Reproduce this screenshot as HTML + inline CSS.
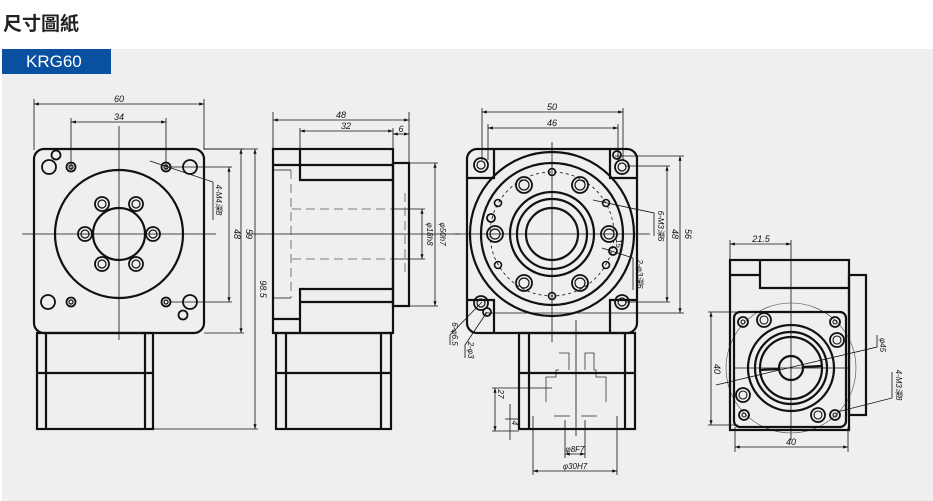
<!DOCTYPE html>
<html><head><meta charset="utf-8"><style>
html,body{margin:0;padding:0;background:#fff;}
body{width:933px;height:501px;overflow:hidden;position:relative;font-family:"Liberation Sans","Noto Sans CJK TC",sans-serif;}
.t{position:absolute;left:3px;top:9px;font-size:19px;font-weight:bold;color:#222;}
.p{position:absolute;left:2px;top:49px;width:931px;height:452px;background:#eeefee;}
.tab{position:absolute;left:2px;top:49px;width:109px;height:25px;background:#0a50a0;color:#fff;font-size:17px;line-height:25px;text-indent:24px;}
svg{position:absolute;left:0;top:0;}
</style></head><body>
<div class="t">尺寸圖紙</div>
<div class="p"></div>
<div class="tab">KRG60</div>
<svg width="933" height="501" viewBox="0 0 933 501">
<defs>
<marker id="a" markerWidth="6" markerHeight="4" refX="6" refY="2" orient="auto-start-reverse"><path d="M0,0L6,2L0,4z" fill="#111"/></marker>
</defs>
<g fill="none" stroke="#111" font-family="Liberation Sans Narrow, Liberation Sans, sans-serif">
<!-- VIEW 1 -->
<g stroke-width="0.8">
<line x1="22" y1="234" x2="216" y2="234"/><line x1="119" y1="126" x2="119" y2="340"/>
<line x1="34" y1="99" x2="34" y2="150"/><line x1="204" y1="99" x2="204" y2="150"/>
<line x1="34" y1="104" x2="204" y2="104" marker-start="url(#a)" marker-end="url(#a)"/>
<line x1="71" y1="118" x2="71" y2="170"/><line x1="166" y1="118" x2="166" y2="170"/>
<line x1="71" y1="122" x2="166" y2="122" marker-start="url(#a)" marker-end="url(#a)"/>
<line x1="170" y1="167" x2="232" y2="167"/><line x1="170" y1="302" x2="232" y2="302"/>
<line x1="229" y1="167" x2="229" y2="302" marker-start="url(#a)" marker-end="url(#a)"/>
<line x1="204" y1="149" x2="244" y2="149"/><line x1="204" y1="333" x2="244" y2="333"/>
<line x1="241" y1="149" x2="241" y2="333" marker-start="url(#a)" marker-end="url(#a)"/>
<line x1="204" y1="149" x2="258" y2="149"/><line x1="153" y1="429" x2="258" y2="429"/>
<line x1="255" y1="149" x2="255" y2="429" marker-start="url(#a)" marker-end="url(#a)"/>
<polyline points="150,161 213,182 213,220"/>
</g>
<g stroke-width="2.2">
<rect x="34" y="149" width="170" height="184" rx="10"/>
<circle cx="119" cy="234" r="64"/><circle cx="119" cy="234" r="26"/>
</g>
<g stroke-width="1.8">
<circle cx="153" cy="234" r="7"/><circle cx="85" cy="234" r="7"/>
<circle cx="136" cy="204" r="7"/><circle cx="102" cy="204" r="7"/>
<circle cx="136" cy="264" r="7"/><circle cx="102" cy="264" r="7"/>
<circle cx="49" cy="167" r="7"/><circle cx="190" cy="167" r="7"/><circle cx="48" cy="302" r="7"/><circle cx="190" cy="302" r="7"/>
<circle cx="56" cy="155" r="4.5"/><circle cx="183" cy="315" r="4.5"/>
<circle cx="71" cy="167" r="4.5"/><circle cx="166" cy="167" r="4.5"/><circle cx="71" cy="302" r="4.5"/><circle cx="166" cy="302" r="4.5"/>
</g>
<g stroke-width="1.2">
<circle cx="153" cy="234" r="4"/><circle cx="85" cy="234" r="4"/><circle cx="136" cy="204" r="4"/><circle cx="102" cy="204" r="4"/><circle cx="136" cy="264" r="4"/><circle cx="102" cy="264" r="4"/>
<circle cx="71" cy="167" r="2"/><circle cx="166" cy="167" r="2"/><circle cx="71" cy="302" r="2"/><circle cx="166" cy="302" r="2"/>
</g>
<g stroke-width="2.2">
<rect x="37" y="333" width="116" height="96"/><line x1="46" y1="333" x2="46" y2="429"/><line x1="145" y1="333" x2="145" y2="429"/><line x1="37" y1="373" x2="153" y2="373"/>
</g>
<!-- VIEW 2 -->
<g stroke-width="0.8">
<line x1="247" y1="234" x2="460" y2="234"/>
<line x1="273" y1="112" x2="273" y2="149"/><line x1="409" y1="112" x2="409" y2="163"/><line x1="300" y1="128" x2="300" y2="149"/><line x1="393" y1="128" x2="393" y2="149"/>
<line x1="273" y1="120" x2="409" y2="120" marker-start="url(#a)" marker-end="url(#a)"/>
<line x1="300" y1="131" x2="393" y2="131" marker-start="url(#a)" marker-end="url(#a)"/>
<line x1="393" y1="134" x2="409" y2="134" marker-start="url(#a)" marker-end="url(#a)"/>
<line x1="409" y1="163" x2="438" y2="163"/><line x1="409" y1="306" x2="438" y2="306"/>
<line x1="435" y1="163" x2="435" y2="306" marker-start="url(#a)" marker-end="url(#a)"/>
<line x1="393" y1="209" x2="425" y2="209"/><line x1="393" y1="259" x2="425" y2="259"/>
<line x1="422" y1="209" x2="422" y2="259" marker-start="url(#a)" marker-end="url(#a)"/>
<g stroke="#555" stroke-dasharray="9,5"><line x1="292" y1="209" x2="393" y2="209"/><line x1="292" y1="259" x2="393" y2="259"/><line x1="291" y1="170" x2="291" y2="298"/><line x1="405" y1="193" x2="405" y2="276"/></g>
<polyline points="291,170 273,170"/><polyline points="291,298 273,298"/>
</g>
<g stroke-width="2.2">
<rect x="273" y="149" width="120" height="184"/><rect x="393" y="163" width="16" height="143"/>
<polyline points="300,149 300,180 393,180"/><line x1="300" y1="165" x2="393" y2="165"/>
<polyline points="300,333 300,289 393,289"/><line x1="300" y1="302" x2="393" y2="302"/>
<line x1="273" y1="165" x2="300" y2="165"/><line x1="273" y1="319" x2="300" y2="319"/>
<rect x="276" y="333" width="115" height="96"/><line x1="286" y1="333" x2="286" y2="429"/><line x1="381" y1="333" x2="381" y2="429"/><line x1="276" y1="373" x2="391" y2="373"/>
</g>
<!-- VIEW 3 -->
<g stroke-width="0.8">
<line x1="455" y1="234" x2="650" y2="234"/><line x1="552" y1="142" x2="552" y2="342"/>
<line x1="482" y1="108" x2="482" y2="160"/><line x1="623" y1="108" x2="623" y2="160"/>
<line x1="482" y1="112" x2="623" y2="112" marker-start="url(#a)" marker-end="url(#a)"/>
<line x1="488" y1="124" x2="488" y2="160"/><line x1="618" y1="124" x2="618" y2="160"/>
<line x1="488" y1="128" x2="618" y2="128" marker-start="url(#a)" marker-end="url(#a)"/>
<line x1="625" y1="166" x2="670" y2="166"/><line x1="625" y1="302" x2="670" y2="302"/>
<line x1="667" y1="166" x2="667" y2="302" marker-start="url(#a)" marker-end="url(#a)"/>
<line x1="615" y1="156" x2="684" y2="156"/><line x1="485" y1="313" x2="684" y2="313"/>
<line x1="680" y1="156" x2="680" y2="313" marker-start="url(#a)" marker-end="url(#a)"/>
<circle cx="552" cy="234" r="62" stroke-dasharray="3,3"/>
<polyline points="593,200 654,213 654,236"/><polyline points="602,248 633,258 633,290"/>
<polyline points="482,302 450,335 450,345"/><polyline points="487,312 465,345 465,358"/>
<line x1="492" y1="388" x2="552" y2="388"/><line x1="492" y1="431" x2="519" y2="431"/>
<line x1="495" y1="388" x2="495" y2="431" marker-start="url(#a)" marker-end="url(#a)"/>
<line x1="510" y1="404" x2="510" y2="440"/><line x1="505" y1="419" x2="519" y2="419"/>
<line x1="533" y1="416" x2="533" y2="475"/><line x1="617" y1="416" x2="617" y2="475"/>
<line x1="533" y1="471" x2="617" y2="471" marker-start="url(#a)" marker-end="url(#a)"/>
<line x1="565" y1="420" x2="565" y2="458"/><line x1="585" y1="420" x2="585" y2="458"/>
<line x1="565" y1="454" x2="585" y2="454" marker-start="url(#a)" marker-end="url(#a)"/>
<line x1="576" y1="320" x2="576" y2="436"/>
<g stroke="#333"><polyline points="559,353 569,353 569,370"/><polyline points="585,370 585,353 594,353 594,370"/><polyline points="546,402 546,377 556,377 556,370 559,370"/><polyline points="606,402 606,377 596,377 596,370 594,370"/><line x1="554" y1="416" x2="570" y2="416"/><line x1="581" y1="416" x2="597" y2="416"/></g>
</g>
<g stroke-width="2.2">
<rect x="467" y="149" width="170" height="184" rx="10"/>
<polyline points="467,178 494,178 494,149"/><polyline points="637,178 610,178 610,149"/>
<polyline points="467,300 494,300 494,333"/><polyline points="637,300 610,300 610,333"/>
<circle cx="552" cy="234" r="82"/><circle cx="552" cy="234" r="71"/>
<circle cx="552" cy="234" r="42"/><circle cx="552" cy="234" r="35"/><circle cx="552" cy="234" r="26"/>
<rect x="519" y="333" width="116" height="96"/><line x1="529" y1="333" x2="529" y2="429"/><line x1="625" y1="333" x2="625" y2="429"/><line x1="519" y1="373" x2="635" y2="373"/>
</g>
<g stroke-width="1.8">
<circle cx="609" cy="234" r="8"/><circle cx="495" cy="234" r="8"/><circle cx="580" cy="185" r="8"/><circle cx="524" cy="185" r="8"/><circle cx="580" cy="283" r="8"/><circle cx="524" cy="283" r="8"/>
<circle cx="481" cy="165" r="7"/><circle cx="622" cy="167" r="7"/><circle cx="481" cy="303" r="7"/><circle cx="622" cy="302" r="7"/>
<circle cx="617" cy="155" r="4"/><circle cx="487" cy="312" r="4"/><circle cx="491" cy="218" r="4"/><circle cx="613" cy="251" r="4"/>
</g>
<g stroke-width="1.2">
<circle cx="609" cy="234" r="5"/><circle cx="495" cy="234" r="5"/><circle cx="580" cy="185" r="5"/><circle cx="524" cy="185" r="5"/><circle cx="580" cy="283" r="5"/><circle cx="524" cy="283" r="5"/>
<circle cx="481" cy="165" r="4"/><circle cx="622" cy="167" r="4"/><circle cx="481" cy="303" r="4"/><circle cx="622" cy="302" r="4"/>
</g>
<g stroke-width="1.6">
<circle cx="552" cy="172" r="3.5"/><circle cx="552" cy="296" r="3.5"/><circle cx="606" cy="203" r="3.5"/><circle cx="498" cy="203" r="3.5"/><circle cx="606" cy="265" r="3.5"/><circle cx="498" cy="265" r="3.5"/>
</g>
<!-- VIEW 4 -->
<g stroke-width="0.8">
<line x1="791" y1="240" x2="791" y2="440"/><line x1="733" y1="368" x2="850" y2="368"/>
<line x1="730" y1="240" x2="730" y2="262"/>
<line x1="730" y1="244" x2="791" y2="244" marker-start="url(#a)" marker-end="url(#a)"/>
<line x1="708" y1="312" x2="738" y2="312"/><line x1="708" y1="425" x2="738" y2="425"/>
<line x1="711" y1="312" x2="711" y2="425" marker-start="url(#a)" marker-end="url(#a)"/>
<line x1="735" y1="427" x2="735" y2="452"/><line x1="848" y1="427" x2="848" y2="452"/>
<line x1="735" y1="447" x2="848" y2="447" marker-start="url(#a)" marker-end="url(#a)"/>
<circle cx="791" cy="368" r="65" stroke="#444" stroke-width="0.6"/>
<polyline points="716,385 877,347 877,335"/>
<polyline points="837,412 892,398 892,372"/>
</g>
<g stroke-width="2.2">
<rect x="730" y="260" width="119" height="170"/><rect x="849" y="275" width="17" height="140"/>
<polyline points="760,260 760,288 849,288"/><line x1="730" y1="275" x2="760" y2="275"/>
<rect x="734" y="312" width="112" height="115" rx="6"/>
<circle cx="791" cy="368" r="43"/><circle cx="791" cy="368" r="36"/><circle cx="791" cy="368" r="31"/><circle cx="791" cy="368" r="12"/>
<line x1="760" y1="370" x2="779" y2="369"/><line x1="803" y1="367" x2="822" y2="366"/>
</g>
<g stroke-width="1.8">
<circle cx="764" cy="320" r="7"/><circle cx="837" cy="340" r="7"/><circle cx="743" cy="395" r="7"/><circle cx="818" cy="415" r="7"/>
<circle cx="743" cy="322" r="5"/><circle cx="835" cy="322" r="5"/><circle cx="744" cy="415" r="5"/><circle cx="835" cy="415" r="5"/>
</g>
<g stroke-width="1.1"><circle cx="764" cy="320" r="4"/><circle cx="837" cy="340" r="4"/><circle cx="743" cy="395" r="4"/><circle cx="818" cy="415" r="4"/><circle cx="743" cy="322" r="2"/><circle cx="835" cy="322" r="2"/><circle cx="744" cy="415" r="2"/><circle cx="835" cy="415" r="2"/></g>
</g>
<g fill="#111" font-family="Liberation Sans, Noto Sans CJK TC, sans-serif" font-size="9" font-style="italic" text-anchor="middle">
<text x="119" y="102">60</text><text x="119" y="120">34</text>
<text x="341" y="118">48</text><text x="346" y="129">32</text><text x="401" y="132">6</text>
<text x="552" y="110">50</text><text x="552" y="126">46</text>
<text x="761" y="242">21.5</text><text x="791" y="445">40</text>
<text transform="translate(234,234) rotate(90)">48</text>
<text transform="translate(246,234) rotate(90)">59</text>
<text transform="translate(260,289) rotate(90)">98.5</text>
<text transform="translate(216,200) rotate(90)" font-size="8">4-M4深8</text>
<text transform="translate(440,234) rotate(90)" font-size="8">φ50h7</text>
<text transform="translate(427,234) rotate(90)" font-size="8">φ18h8</text>
<text transform="translate(672,234) rotate(90)">48</text>
<text transform="translate(685,234) rotate(90)">56</text>
<text transform="translate(658,226) rotate(90)" font-size="8">6-M3深6</text>
<text transform="translate(637,274) rotate(90)" font-size="8">2-φ3深6</text>
<text transform="translate(616,245) rotate(90)" font-size="8">15°</text>
<text transform="translate(452,334) rotate(90)" font-size="8">6-φ6.5</text>
<text transform="translate(468,350) rotate(90)" font-size="8">2-φ3</text>
<text transform="translate(498,394) rotate(90)" font-size="8">27</text>
<text transform="translate(512,423) rotate(90)" font-size="8">4</text>
<text x="575" y="452" font-size="8">φ8F7</text>
<text x="575" y="469" font-size="8">φ30H7</text>
<text transform="translate(714,369) rotate(90)">40</text>
<text transform="translate(880,345) rotate(90)" font-size="8">φ45</text>
<text transform="translate(896,385) rotate(90)" font-size="8">4-M3深8</text>
</g>
</svg>
</body></html>
